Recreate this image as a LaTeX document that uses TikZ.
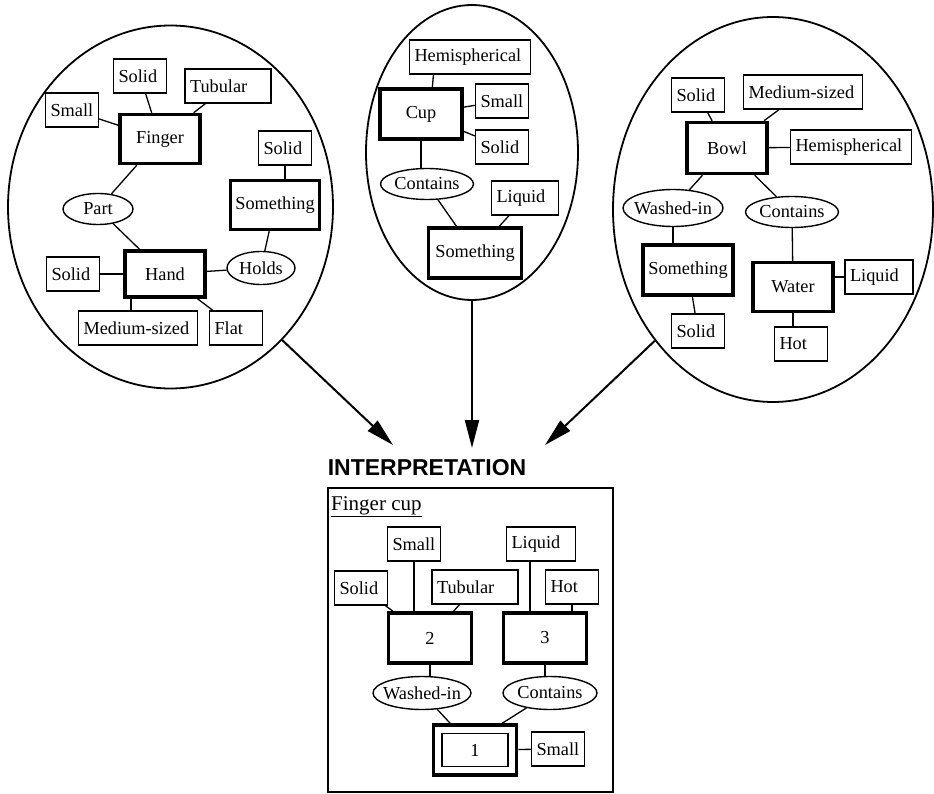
\documentclass[tikz,border=0pt]{standalone}
\usepackage{fontspec}
\setmainfont{Liberation Serif}
\newfontfamily\headfont{Liberation Sans}
\usetikzlibrary{shapes.geometric,arrows.meta,backgrounds}

\begin{document}
\begin{tikzpicture}[x=1pt,y=-1pt,
    every node/.style={font=\fontsize{18.3}{20}\selectfont},
    concept node/.style={draw,fill=white,line width=3.5pt,minimum width=80pt,minimum height=49pt,inner xsep=4pt},
    attr node/.style={draw,fill=white,line width=1.3pt,minimum height=34pt,inner xsep=5pt,text width=43pt,align=left},
    rel node/.style={draw,fill=white,ellipse,line width=1.4pt,minimum height=31pt,inner xsep=-6pt,inner ysep=0pt},
    frame/.style={draw,ellipse,line width=1.8pt},
    link/.style={line width=1.3pt},
    big arrow/.style={line width=2pt,-{Triangle[length=28pt,width=14pt]}}]

  \useasboundingbox (0,0) rectangle (934,794);

  % the three concepts
  \node[frame,minimum width=325pt,minimum height=363pt] (lefte) at (170.5,207) {};
  \node[frame,minimum width=212pt,minimum height=295pt] (mide) at (472,152.5) {};
  \node[frame,minimum width=320pt,minimum height=385pt] (righte) at (773,209.5) {};

  % finger
  \node[concept node] (fin) at (160,139) {Finger};
  \node[attr node] (so1) at (140,76) {Solid};
  \node[attr node,text width=76pt] (tub1) at (228,86) {Tubular};
  \node[attr node] (sm1) at (72,110) {Small};
  \node[rel node,minimum width=70pt] (part) at (98,209) {Part};
  \node[concept node,minimum height=46pt] (hand) at (165,274) {Hand};
  \node[attr node] (so3) at (73,274) {Solid};
  \node[attr node,text width=109pt] (med1) at (138,328) {Medium-sized};
  \node[attr node] (flat) at (236,328) {Flat};
  \node[rel node,minimum width=68pt,minimum height=33pt] (holds) at (261,268) {Holds};
  \node[concept node,minimum width=89pt] (sth1) at (275,205) {Something};
  \node[attr node] (so2) at (285,148) {Solid};

  % cup
  \node[attr node,text width=111pt] (hem1) at (470,57) {Hemispherical};
  \node[concept node,minimum width=82pt,minimum height=50pt] (cup) at (421,114) {Cup};
  \node[attr node] (sm2) at (502,101) {Small};
  \node[attr node] (so4) at (502,147) {Solid};
  \node[rel node,minimum width=93pt] (cont1) at (427,184) {Contains};
  \node[attr node,text width=57pt] (liq1) at (525,198) {Liquid};
  \node[concept node,minimum width=93pt,minimum height=50pt] (sth2) at (475,253) {Something};

  % bowl
  \node[attr node] (so5) at (698,95) {Solid};
  \node[attr node,text width=109pt] (med2) at (803,92) {Medium-sized};
  \node[concept node,minimum height=51pt] (bowl) at (727,148) {Bowl};
  \node[attr node,text width=111pt] (hem2) at (851,147) {Hemispherical};
  \node[rel node,minimum width=100pt,minimum height=37pt] (wash1) at (673,208) {Washed-in};
  \node[rel node,minimum width=93pt] (cont2) at (792,212) {Contains};
  \node[concept node,minimum width=90pt,minimum height=50pt] (sth3) at (688,270) {Something};
  \node[concept node] (water) at (793,287) {Water};
  \node[attr node,text width=58pt] (liq2) at (879,277) {Liquid};
  \node[attr node] (so6) at (698,331) {Solid};
  \node[attr node] (hot1) at (801,344) {Hot};

  % interpretation
  \node[font=\headfont\bfseries\fontsize{23}{25}\selectfont] (title) at (427,468) {INTERPRETATION};
  \node[draw,line width=2pt,minimum width=285pt,minimum height=304pt] (interp) at (470.5,640) {};
  \node[anchor=north west,inner sep=1pt,font=\fontsize{21}{23}\selectfont] (fcup) at (330,495) {\underline{Finger cup}};
  \node[attr node] (sm3) at (414,544) {Small};
  \node[attr node,text width=59pt] (liq3) at (541,544) {Liquid};
  \node[attr node] (so7) at (361,588) {Solid};
  \node[attr node,text width=76pt] (tub2) at (475,587) {Tubular};
  \node[attr node] (hot2) at (572,587) {Hot};
  \node[concept node,minimum width=83pt,minimum height=50pt] (b2) at (430,638) {2};
  \node[concept node,minimum width=83pt,minimum height=50pt] (b3) at (545,638) {3};
  \node[rel node,minimum width=98pt,minimum height=33pt] (wash2) at (422,693) {Washed-in};
  \node[rel node,minimum width=94pt,minimum height=33pt] (cont3) at (550,693) {Contains};
  \node[concept node,minimum width=83pt,minimum height=50pt] (b1) at (475,750) {};
  \node[draw,line width=1.3pt,minimum width=66pt,minimum height=33pt] (b1in) at (b1) {1};
  \node[attr node] (sm4) at (558,749) {Small};

  \begin{pgfonlayer}{background}
    \path[link]
      (sm1) edge (fin)
      (so1) edge (fin)
      (tub1) edge (fin)
      (fin) edge (part)
      (part) edge (hand)
      (so3) edge (hand)
      (hand) edge (holds)
      (holds) edge (sth1)
      (so2) edge (so2 |- sth1)
      ([xshift=-34pt]hand.center) edge ([xshift=-7pt]med1.center)
      (hand) edge (flat);
    \path[link]
      ([xshift=-35pt]hem1.center) edge ([xshift=9pt]cup.center)
      (cup) edge (sm2)
      (cup) edge (so4)
      (cup) edge (cup |- cont1)
      (cont1) edge (sth2)
      (liq1) edge (sth2);
    \path[link]
      (so5) edge (bowl)
      (med2) edge (bowl)
      (bowl) edge (hem2)
      (bowl) edge (wash1)
      (bowl) edge (cont2)
      (wash1) edge (wash1 |- sth3)
      (cont2) edge (water)
      (liq2) edge (liq2 -| water)
      (water) edge (water |- hot1)
      (sth3) edge (so6);
    \path[link]
      (so7) edge (b2)
      (sm3) edge (sm3 |- b2)
      (tub2) edge (b2)
      ([xshift=-15pt]b3.center) edge ([xshift=-11pt]liq3.center)
      (hot2) edge (hot2 |- b3)
      (b2) edge (b2 |- wash2)
      (b3) edge (b3 |- cont3)
      (wash2) edge (b1)
      (cont3) edge ([xshift=-15pt]b1.center)
      (b1) edge (sm4);
  \end{pgfonlayer}

  \coordinate (tipL) at (393,445);
  \coordinate (tipM) at (472,448);
  \coordinate (tipR) at (545,445);
  \draw[big arrow] (lefte.-50) -- (tipL);
  \draw[big arrow] (mide.south) -- (tipM);
  \draw[big arrow] (righte.-132) -- (tipR);

\end{tikzpicture}
\end{document}
